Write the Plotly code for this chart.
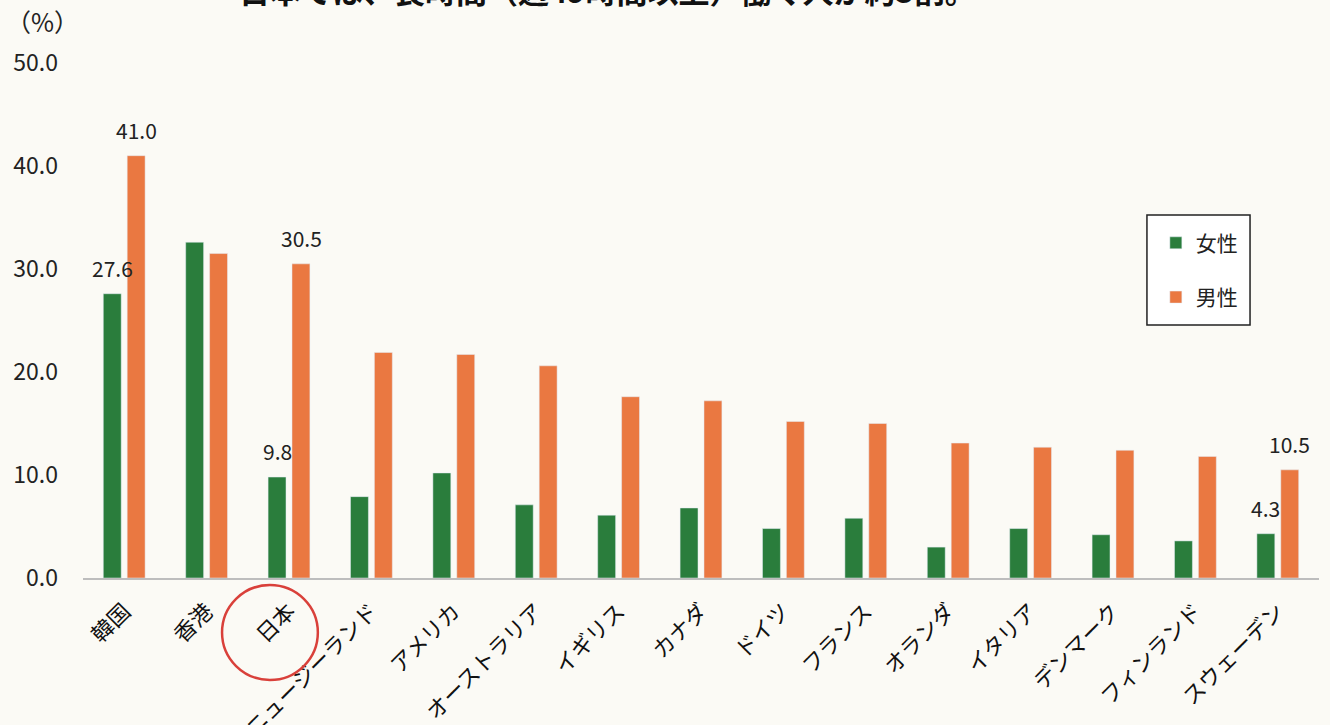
import plotly.graph_objects as go

categories = ["韓国", "香港", "日本", "ニュージーランド", "アメリカ", "オーストラリア", "イギリス",
              "カナダ", "ドイツ", "フランス", "オランダ", "イタリア", "デンマーク", "フィンランド", "スウェーデン"]
female = [27.6, 32.6, 9.8, 7.9, 10.2, 7.1, 6.1, 6.8, 4.8, 5.8, 3.0, 4.8, 4.2, 3.6, 4.3]
male = [41.0, 31.5, 30.5, 21.9, 21.7, 20.6, 17.6, 17.2, 15.2, 15.0, 13.1, 12.7, 12.4, 11.8, 10.5]
labeled = ["韓国", "日本", "スウェーデン"]
y_ticks = [0, 10, 20, 30, 40, 50]

GREEN = "#2a7d3c"
ORANGE = "#ea7841"
FONT = "Noto Sans CJK JP"

fig = go.Figure()
fig.add_trace(go.Bar(name="女性", x=categories, y=female, marker_color=GREEN,
                     legendgroup="f"))
fig.add_trace(go.Bar(name="男性", x=categories, y=male, marker_color=ORANGE,
                     legendgroup="m"))

annotations = []
for c, f, m in zip(categories, female, male):
    if c in labeled:
        for v, shift in ((f, -12), (m, 12)):
            annotations.append(dict(x=c, y=v, xref="x", yref="y", text=f"{v:.1f}",
                                    showarrow=False, xshift=shift, yshift=9,
                                    yanchor="bottom", xanchor="center",
                                    font=dict(size=21, color="#222", family=FONT)))

annotations.append(dict(x=-0.064, y=1.082, xref="paper", yref="paper", text="（%）",
                        showarrow=False, xanchor="left", yanchor="middle",
                        font=dict(size=25, color="#222", family=FONT)))
annotations.append(dict(x=0.1246, y=1.143, xref="paper", yref="paper",
                        text="日本では、長時間（週49時間以上）働く人が約3割。",
                        showarrow=False, xanchor="left", yanchor="middle",
                        font=dict(size=31, color="#111", family=FONT, weight=700)))

fig.update_layout(
    width=1330, height=725,
    margin=dict(l=83, r=11, t=63, b=147),
    paper_bgcolor="#fbfaf5", plot_bgcolor="#fbfaf5",
    barmode="group", bargap=0.42, bargroupgap=0.25,
    font=dict(family=FONT, color="#222"),
    showlegend=True,
    legend=dict(x=0.868, y=0.690, xanchor="left", yanchor="top",
                bgcolor="rgba(0,0,0,0)", borderwidth=0,
                font=dict(size=21, color="#222", family=FONT),
                tracegroupgap=24, traceorder="grouped"),
    annotations=annotations,
    shapes=[
        dict(type="rect", xref="paper", yref="paper", layer="below",
             x0=0.8608, x1=0.9442, y0=0.4913, y1=0.7049,
             fillcolor="#ffffff", line=dict(color="#222", width=1.5)),
        dict(type="circle", xref="paper", yref="paper",
             x0=0.1125, x1=0.190, y0=-0.198, y1=-0.0136,
             line=dict(color="#d9403a", width=2.5)),
    ],
    xaxis=dict(tickangle=-45, showline=True, linecolor="#bdbdbd", linewidth=1.5,
               tickfont=dict(size=22, color="#111", family=FONT),
               ticklabelstandoff=10,
               automargin=False, showgrid=False),
    yaxis=dict(range=[0, 50], tickvals=y_ticks, tickformat=".1f", showgrid=False,
               zeroline=False, showline=False, ticklabelstandoff=24,
               tickfont=dict(size=23, color="#222", family=FONT),
               automargin=False),
)

fig.write_html("out.html", config={"displayModeBar": False},
               post_script="document.body.style.margin='0';")
